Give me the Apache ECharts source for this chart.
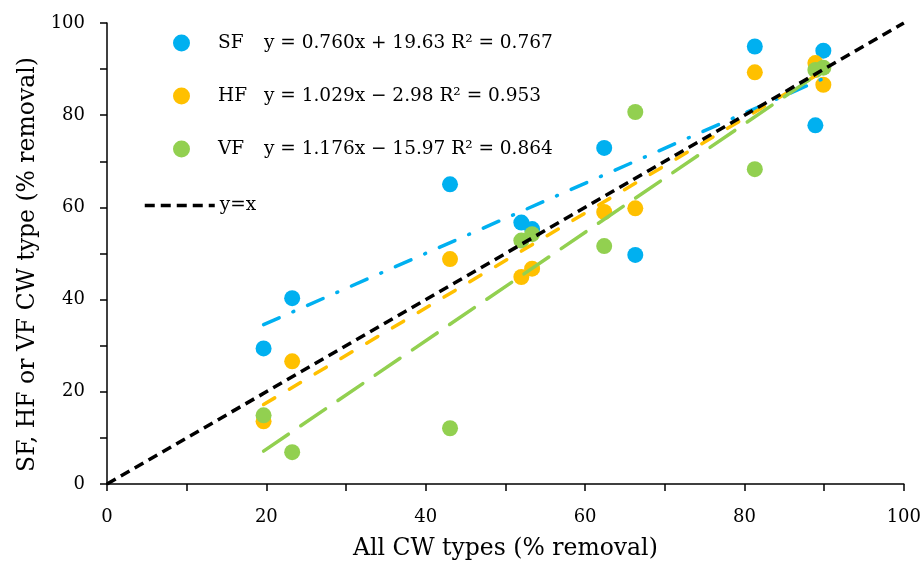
<!DOCTYPE html>
<html>
<head>
<meta charset="utf-8">
<script src="https://cdn.jsdelivr.net/npm/echarts@6/dist/echarts.min.js"></script>
<style>html,body{margin:0;padding:0;background:#fff}#c{width:924px;height:566px}</style>
</head>
<body>
<div id="c"></div>
<script>
// All CW types (% removal) - shared x values
const xAll = [19.65, 23.24, 43.05, 52.0, 53.35, 62.4, 66.3, 81.3, 88.9, 89.9];
const sfVals = [29.4, 40.3, 65.0, 56.7, 55.3, 72.9, 49.7, 94.9, 77.8, 94.0];
const hfVals = [13.6, 26.6, 48.8, 44.9, 46.7, 59.0, 59.8, 89.3, 91.3, 86.6];
const vfVals = [14.9, 6.9, 12.1, 52.8, 54.2, 51.6, 80.7, 68.3, 89.8, 90.3];
const seriesNames = ['SF', 'HF', 'VF'];
const slopes = [0.760, 1.029, 1.176];
const intercepts = [19.63, -2.98, -15.97];
const equations = ['y = 0.760x + 19.63 R\u00b2 = 0.767', 'y = 1.029x \u2212 2.98 R\u00b2 = 0.953', 'y = 1.176x \u2212 15.97 R\u00b2 = 0.864'];
const xTickLabels = ['0', '20', '40', '60', '80', '100'];
const yTickLabels = ['0', '20', '40', '60', '80', '100'];
const colors = ['#00B0F0', '#FFC000', '#92D050'];
const FONT = 'DejaVu Serif';

const allVals = [sfVals, hfVals, vfVals];
const xMin = Math.min.apply(null, xAll), xMax = Math.max.apply(null, xAll);

const scatterSeries = seriesNames.map((n, i) => ({
  name: n, type: 'scatter', symbol: 'circle', symbolSize: 16,
  itemStyle: { color: colors[i], opacity: 1 },
  data: xAll.map((x, k) => [x, allVals[i][k]]),
  z: 2
}));
const dashTypes = [[17, 15, 1, 15], [13, 17], [30, 15]];
const trendSeries = seriesNames.map((n, i) => ({
  name: n + ' trend', type: 'line', symbol: 'none', silent: true,
  lineStyle: { color: colors[i], width: 3.5, type: dashTypes[i], cap: 'round' },
  data: [[xMin, slopes[i] * xMin + intercepts[i]], [xMax, slopes[i] * xMax + intercepts[i]]],
  z: 3
}));
const identity = {
  name: 'y=x', type: 'line', symbol: 'none', silent: true,
  lineStyle: { color: '#000', width: 3.5, type: [10, 6] },
  itemStyle: { color: '#000' },
  data: [[0, 0], [100, 100]], z: 4
};

const chart = echarts.init(document.getElementById('c'), null, { renderer: 'canvas' });
chart.setOption({
  animation: false,
  backgroundColor: '#fff',
  grid: { left: 107, right: 18, top: 23, bottom: 80 },
  legend: [{
    id: 'main',
    data: seriesNames, orient: 'vertical', left: 168, top: 26,
    itemWidth: 17, itemHeight: 17, itemGap: 29, icon: 'circle',
    formatter: name => '{p| }{n|' + name + '}{e|' + equations[seriesNames.indexOf(name)] + '}',
    textStyle: {
      fontFamily: FONT, fontSize: 18.5, color: '#000', lineHeight: 24,
      rich: {
        p: { width: 23, fontFamily: FONT, fontSize: 18.5 },
        n: { width: 46, fontFamily: FONT, fontSize: 18.5, color: '#000' },
        e: { fontFamily: FONT, fontSize: 18.5, color: '#000' }
      }
    }
  }, {
    id: 'identity',
    data: ['y=x'], orient: 'horizontal', left: 138, top: 191,
    itemWidth: 70, itemHeight: 14,
    itemStyle: { opacity: 0 },
    lineStyle: { color: '#000', width: 3.5, type: [10, 6], opacity: 1 },
    textStyle: { fontFamily: FONT, fontSize: 18.5, color: '#000' }
  }],
  xAxis: {
    type: 'value', min: 0, max: 100, interval: 10,
    name: 'All CW types (% removal)', nameLocation: 'middle', nameGap: 53,
    nameTextStyle: { fontFamily: FONT, fontSize: 23.5, color: '#000' },
    axisLine: { show: true, lineStyle: { color: '#000', width: 1.5 } },
    axisTick: { show: true, length: 7, lineStyle: { color: '#000', width: 1.5 } },
    axisLabel: { margin: 24, fontFamily: FONT, fontSize: 18, color: '#000',
      formatter: v => (v % 20 === 0 ? xTickLabels[v / 20] : '') },
    splitLine: { show: false }
  },
  yAxis: {
    type: 'value', min: 0, max: 100, interval: 10,
    name: 'SF, HF or VF CW type (% removal)', nameLocation: 'middle', nameGap: 66,
    nameTextStyle: { fontFamily: FONT, fontSize: 23.5, color: '#000', padding: [0, 22, 0, 0] },
    axisLine: { show: true, lineStyle: { color: '#000', width: 1.5 } },
    axisTick: { show: true, length: 7, lineStyle: { color: '#000', width: 1.5 } },
    axisLabel: { margin: 22, fontFamily: FONT, fontSize: 18, color: '#000',
      formatter: v => (v % 20 === 0 ? yTickLabels[v / 20] : '') },
    splitLine: { show: false }
  },
  series: scatterSeries.concat(trendSeries, [identity])
});
</script>
</body>
</html>
